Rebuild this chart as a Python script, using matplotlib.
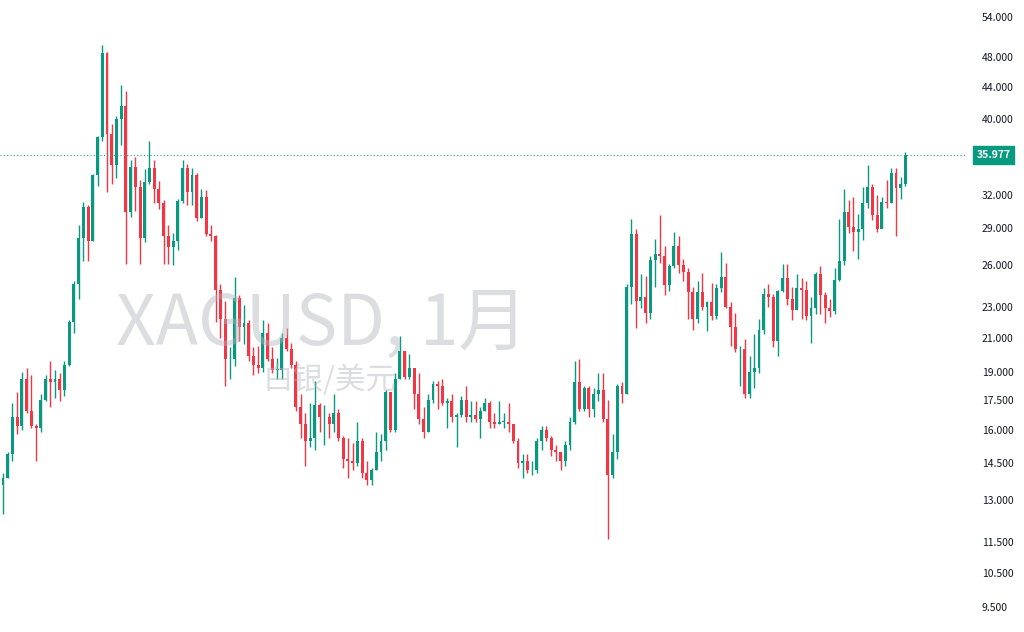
import matplotlib
matplotlib.use("Agg")
import matplotlib.pyplot as plt
import numpy as np

plt.rcParams['font.family'] = ['Noto Sans CJK SC', 'DejaVu Sans']

first_open = 13.6
# monthly close, high, low (Jun/Jul 2009 .. Jun 2025)
closes = [13.9,14.9,16.6,16.2,18.6,16.9,16.2,16.1,17.5,18.6,18.4,18.6,18.0,19.4,22.0,24.6,28.2,30.9,27.9,33.9,37.9,48.6,
 38.3,34.9,40.0,41.5,30.4,34.7,32.7,28.2,33.2,34.6,32.5,31.2,28.3,27.4,27.9,31.4,34.6,32.3,33.9,29.9,
 31.8,28.5,28.3,24.2,22.2,19.7,19.7,23.6,21.7,21.9,19.9,19.4,19.2,21.3,19.7,19.1,19.1,21.0,20.3,19.4,17.1,16.3,15.5,15.6,
 17.2,16.6,16.6,16.3,16.8,15.6,14.7,14.6,14.5,15.5,14.1,13.8,14.2,15.0,15.5,17.9,16.0,18.6,20.2,18.7,19.2,17.8,16.5,15.9,
 17.5,18.3,18.2,17.3,17.4,16.6,16.7,17.5,16.6,16.7,16.5,16.9,17.3,16.4,16.3,16.4,16.4,16.3,15.5,14.5,14.6,14.2,14.2,15.5,
 16.0,15.6,15.1,15.0,14.6,15.3,16.4,18.4,17.0,18.1,17.0,17.8,18.0,16.5,14.0,15.0,18.2,17.8,24.4,28.5,23.4,23.7,22.6,26.4,
 26.9,26.7,24.5,25.9,27.5,26.0,25.5,24.0,22.2,24.0,23.0,23.3,22.4,24.3,25.1,23.0,21.7,20.3,20.3,17.8,19.0,19.2,21.5,23.9,
 23.7,20.8,24.1,25.0,23.5,22.8,24.3,24.2,22.4,22.9,25.3,23.8,22.9,22.7,24.9,26.3,30.4,29.1,28.7,28.9,31.2,32.7,30.1,28.9,
 31.3,31.2,34.1,32.6,33.0,35.977]
highs = [14.1,15.0,17.3,17.9,19.0,19.2,18.8,16.3,17.8,18.8,19.6,19.1,18.9,19.6,22.1,24.8,29.3,31.3,31.0,34.0,38.1,49.8,
 48.7,39.4,40.4,44.2,43.4,35.4,35.8,33.4,34.5,37.5,35.4,33.3,31.5,29.3,28.6,31.6,35.4,35.0,34.6,34.1,
 32.5,32.4,29.3,28.4,24.6,23.4,20.4,25.1,23.8,23.1,22.1,20.4,20.5,22.1,21.9,20.4,19.8,21.3,21.6,20.7,19.6,17.8,16.8,17.3,
 18.5,17.3,17.2,16.8,17.8,17.0,15.7,15.6,15.4,16.4,15.6,14.6,14.3,15.9,15.8,18.0,17.8,18.9,21.1,20.2,20.0,19.2,18.9,17.1,
 17.8,18.5,18.5,18.6,17.6,17.8,16.8,17.7,18.2,17.4,17.4,17.1,17.6,17.4,16.8,17.4,16.8,17.3,16.3,15.6,14.9,14.9,14.6,15.6,
 16.2,16.2,15.7,15.3,15.0,15.5,16.6,19.6,19.7,18.2,18.2,18.1,18.9,18.9,17.5,15.8,18.3,18.4,24.6,29.8,28.9,25.3,25.2,26.7,
 28.1,30.1,27.5,26.1,28.7,28.3,26.5,25.8,24.4,24.8,25.4,23.4,24.7,24.6,27.0,26.2,23.3,22.6,20.5,20.9,19.9,21.2,22.2,24.3,
 24.6,23.9,24.2,26.1,26.1,24.4,25.3,25.0,24.8,23.7,25.5,25.9,24.0,23.5,25.8,29.8,32.5,31.5,31.8,30.2,32.7,34.9,33.0,32.0,
 31.8,33.4,34.6,34.6,33.7,36.3]
lows = [12.5,13.9,14.6,15.8,16.0,16.8,16.1,14.6,15.9,17.4,17.1,17.6,17.4,17.7,19.3,21.3,23.5,26.3,26.3,27.9,32.8,37.5,
 32.3,33.0,33.6,37.0,26.1,30.0,30.5,26.1,27.8,33.0,31.2,30.7,26.1,26.1,26.0,27.2,31.2,31.0,31.0,29.6,
 29.9,28.3,27.9,22.0,21.0,18.2,18.6,19.3,20.8,20.6,19.6,18.8,18.9,19.0,19.6,18.9,18.6,18.6,20.2,19.2,16.9,15.6,14.4,15.2,
 15.1,15.9,15.3,15.6,15.9,15.5,14.3,13.9,14.2,14.4,13.9,13.6,13.6,14.2,14.6,15.1,15.9,15.9,18.6,18.6,18.6,17.0,16.3,15.6,
 15.9,17.3,17.0,17.2,16.1,16.4,15.2,16.6,16.4,16.4,16.4,15.6,16.9,16.1,16.1,16.3,16.1,15.9,15.4,14.3,13.9,14.1,14.0,14.1,
 15.1,15.5,14.8,14.6,14.2,14.4,15.1,16.3,16.9,16.9,16.6,16.6,17.4,16.4,11.6,13.9,14.7,17.3,17.8,23.2,21.6,22.9,21.9,22.2,
 24.4,26.2,23.8,24.1,25.8,25.4,24.8,22.2,21.5,21.9,22.8,21.4,22.1,22.2,24.0,22.9,20.5,20.1,18.2,17.6,17.6,18.1,18.9,21.2,
 23.0,20.4,19.9,24.0,23.1,22.1,22.9,22.2,22.1,20.7,22.5,22.5,21.9,22.3,22.5,24.8,26.0,28.6,27.1,26.5,28.0,30.8,29.7,28.7,
 29.0,30.8,31.2,28.3,31.6,32.8]
y_ticks = [9.5,10.5,11.5,13,14.5,16,17.5,19,21,23,26,29,32,40,44,48,54]
last_label = "35.977"

up, down = '#089981', '#f23645'
fig = plt.figure(figsize=(10.24, 6.32), dpi=100)
ax = fig.add_axes([0, 0, 965/1024, 1])
opens = [first_open] + closes[:-1]
n = len(closes)
x = np.arange(n)
for i in range(n):
    o, c, h, l = opens[i], closes[i], highs[i], lows[i]
    col = up if c >= o else down
    ax.vlines(x[i], l, h, color=col, lw=1)
    ax.bar(x[i], abs(c - o) if abs(c-o) > 0.02 else 0.02, bottom=min(o, c), width=0.62, color=col, lw=0)

ax.set_yscale('log')
ax.set_ylim(8.82, 56.8)
ax.set_xlim(-0.64, 203.6)
ax.yaxis.tick_right()
ax.set_yticks(y_ticks)
ax.set_yticklabels([f"{v:.3f}" for v in y_ticks])
ax.minorticks_off()
ax.tick_params(axis='y', length=0, pad=12, labelsize=7.5, labelcolor='#131722')
ax.set_xticks([])
for s in ax.spines.values():
    s.set_visible(False)

last = closes[-1]
ax.axhline(last, color='#2e9e8a', lw=0.8, ls=(0, (1, 2)))
ax.text(1.012, last, last_label, transform=ax.get_yaxis_transform(), va='center', ha='left',
        fontsize=7.5, color='white', fontweight='bold',
        bbox=dict(boxstyle='square,pad=0.35', fc=up, ec=up), clip_on=False)

fig.text(322/1024, 1 - 325/632, "XAGUSD, 1月", fontsize=50, color='#b2b5be', alpha=0.45,
         ha='center', va='center')
fig.text(330/1024, 1 - 380/632, "白银/美元", fontsize=22, color='#b2b5be', alpha=0.45,
         ha='center', va='center')
fig.savefig("out.png", dpi=100, facecolor='white')
